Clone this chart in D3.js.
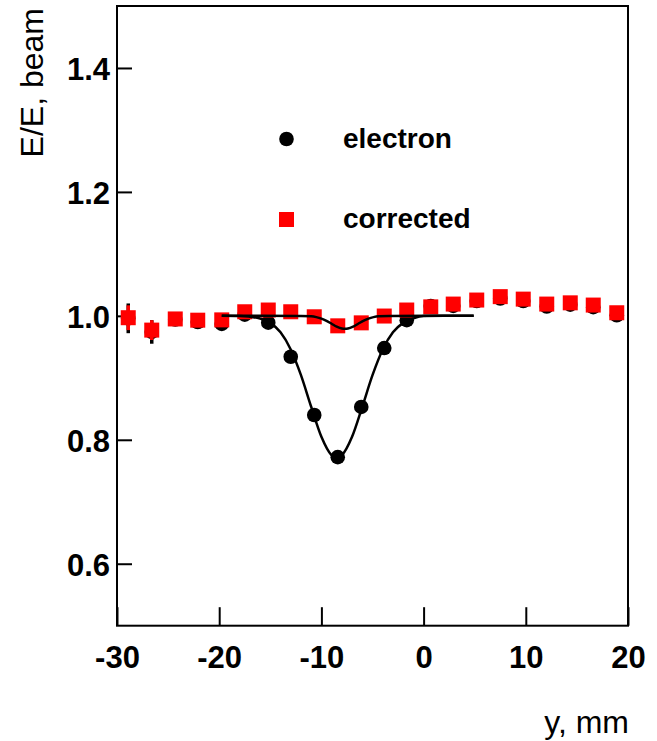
<!DOCTYPE html>
<html>
<head>
<meta charset="utf-8">
<script src="https://cdn.jsdelivr.net/npm/d3@7/dist/d3.min.js"></script>
<style>
  html, body { margin: 0; padding: 0; background: #fff; }
  svg { display: block; font-family: "Liberation Sans", Arial, Helvetica, sans-serif; }
</style>
</head>
<body>
<svg id="chart" width="657" height="741"></svg>
<script>
// ---- data ----
const yPos = [-28.9, -26.6, -24.3, -22.1, -19.75, -17.5, -15.2, -13.0, -10.7, -8.4, -6.1, -3.85, -1.65, 0.7, 2.9, 5.2, 7.5, 9.75, 12.05, 14.35, 16.6, 18.9];
const electron = [0.996, 0.974, 0.994, 0.990, 0.987, 1.002, 0.989, 0.934, 0.840, 0.772, 0.853, 0.948, 0.993, 1.016, 1.016, 1.024, 1.028, 1.024, 1.015, 1.018, 1.014, 1.001];
const electronErr = [0.024, 0.019, 0.006, 0.006, 0.006, 0.006, 0.006, 0.006, 0.006, 0.006, 0.006, 0.006, 0.006, 0.006, 0.006, 0.006, 0.006, 0.006, 0.006, 0.006, 0.006, 0.006];
const corrected = [0.997, 0.977, 0.995, 0.993, 0.9935, 1.0066, 1.0094, 1.0066, 0.9985, 0.9839, 0.9887, 0.9997, 1.0094, 1.0145, 1.019, 1.0255, 1.031, 1.027, 1.019, 1.021, 1.0174, 1.005];
const correctedErr = [0.020, 0.016, 0.006, 0.006, 0.006, 0.006, 0.006, 0.006, 0.006, 0.006, 0.006, 0.006, 0.006, 0.006, 0.006, 0.006, 0.006, 0.006, 0.006, 0.006, 0.006, 0.006];

// fit curves
const fitElectronX = [-19.75, -18, -16, -15, -14, -13, -12, -11, -10, -9, -8.5, -8, -7, -6, -5, -4, -3, -2, -1, 0, 2, 4.9];
const fitElectronV = [1.000, 0.9996, 0.9958, 0.9887, 0.9734, 0.9458, 0.9043, 0.8533, 0.8049, 0.7751, 0.771, 0.7751, 0.8049, 0.8533, 0.9043, 0.9458, 0.9734, 0.9887, 0.9958, 0.9996, 1.000, 1.000];
const fitCorrectedX = [-19.75, -12, -11, -10.5, -10, -9.5, -9, -8.5, -8, -7.7, -7.4, -6.9, -6.4, -5.9, -5.4, -4.9, -4.4, -3.4, 4.9];
const fitCorrectedV = [1.000, 0.9999, 0.9992, 0.9979, 0.9956, 0.9920, 0.9873, 0.9826, 0.9795, 0.979, 0.9795, 0.9826, 0.9873, 0.9920, 0.9956, 0.9979, 0.9992, 0.9999, 1.000];

const xTicks = [-30, -20, -10, 0, 10, 20];
const xTickLabels = ["-30", "-20", "-10", "0", "10", "20"];
const yTicks = [0.6, 0.8, 1.0, 1.2, 1.4];
const yTickLabels = ["0.6", "0.8", "1.0", "1.2", "1.4"];
const legendLabels = ["electron", "corrected"];

// ---- layout ----
const L = 117, R = 628, T = 6, B = 625.7;
const svg = d3.select("#chart");
const x = d3.scaleLinear().domain([-30, 20]).range([L, R]);
const y = d3.scaleLinear().domain([0.5, 1.5]).range([B, T]);

// axes
const gx = svg.append("g").attr("transform", `translate(0,${B})`)
  .call(d3.axisBottom(x).tickValues(xTicks).tickSizeInner(-18.5).tickSizeOuter(0).tickFormat((d, i) => xTickLabels[i]));
gx.select(".domain").remove();
gx.selectAll(".tick line").attr("stroke", "#000").attr("stroke-width", 2);
gx.selectAll(".tick text").attr("y", 0).attr("dy", "42px")
  .attr("font-size", 31).attr("font-weight", "bold").attr("fill", "#000")
  .attr("font-family", "'Liberation Sans', Arial, sans-serif");

const gy = svg.append("g").attr("transform", `translate(${L},0)`)
  .call(d3.axisLeft(y).tickValues(yTicks).tickSizeInner(-15).tickSizeOuter(0).tickFormat((d, i) => yTickLabels[i]));
gy.select(".domain").remove();
gy.selectAll(".tick line").attr("stroke", "#000").attr("stroke-width", 2);
gy.selectAll(".tick text").attr("x", -7).attr("dy", "0.37em")
  .attr("font-size", 31).attr("font-weight", "bold").attr("fill", "#000")
  .attr("font-family", "'Liberation Sans', Arial, sans-serif");

// frame
svg.append("rect").attr("x", L).attr("y", T).attr("width", R - L).attr("height", B - T)
  .attr("fill", "none").attr("stroke", "#000").attr("stroke-width", 2);

// axis titles
svg.append("text").attr("transform", `translate(43,${T + 2}) rotate(-90)`)
  .attr("text-anchor", "end").attr("font-size", 32).attr("fill", "#000").text("E/E, beam");
svg.append("text").attr("x", R + 1).attr("y", 733).attr("text-anchor", "end")
  .attr("font-size", 32).attr("fill", "#000").text("y, mm");

// electron series (black circles)
const gE = svg.append("g");
gE.selectAll("line").data(yPos).join("line")
  .attr("x1", d => x(d)).attr("x2", d => x(d))
  .attr("y1", (d, i) => y(electron[i] + electronErr[i]))
  .attr("y2", (d, i) => y(electron[i] - electronErr[i]))
  .attr("stroke", "#000").attr("stroke-width", 3.5);
gE.selectAll("circle").data(yPos).join("circle")
  .attr("cx", d => x(d)).attr("cy", (d, i) => y(electron[i])).attr("r", 7.3).attr("fill", "#000");

// corrected series (red squares)
const gC = svg.append("g");
gC.selectAll("line").data(yPos).join("line")
  .attr("x1", d => x(d)).attr("x2", d => x(d))
  .attr("y1", (d, i) => y(corrected[i] + correctedErr[i]))
  .attr("y2", (d, i) => y(corrected[i] - correctedErr[i]))
  .attr("stroke", "#ff0000").attr("stroke-width", 3.5);
gC.selectAll("rect").data(yPos).join("rect")
  .attr("x", d => x(d) - 7.5).attr("y", (d, i) => y(corrected[i]) - 7.5)
  .attr("width", 15).attr("height", 15).attr("fill", "#ff0000");

// fit curves
const line = d3.line().x(d => x(d[0])).y(d => y(d[1])).curve(d3.curveMonotoneX);
svg.append("path").attr("d", line(fitElectronX.map((v, i) => [v, fitElectronV[i]])))
  .attr("fill", "none").attr("stroke", "#000").attr("stroke-width", 2.5);
svg.append("path").attr("d", line(fitCorrectedX.map((v, i) => [v, fitCorrectedV[i]])))
  .attr("fill", "none").attr("stroke", "#000").attr("stroke-width", 2.5);

// legend
svg.append("circle").attr("cx", 286.5).attr("cy", 139).attr("r", 7.3).attr("fill", "#000");
svg.append("rect").attr("x", 279).attr("y", 212).attr("width", 15).attr("height", 15).attr("fill", "#ff0000");
svg.append("text").attr("x", 343).attr("y", 148).attr("font-size", 28).attr("font-weight", "bold")
  .attr("fill", "#000").text(legendLabels[0]);
svg.append("text").attr("x", 343).attr("y", 228).attr("font-size", 28).attr("font-weight", "bold")
  .attr("fill", "#000").text(legendLabels[1]);
</script>
</body>
</html>
